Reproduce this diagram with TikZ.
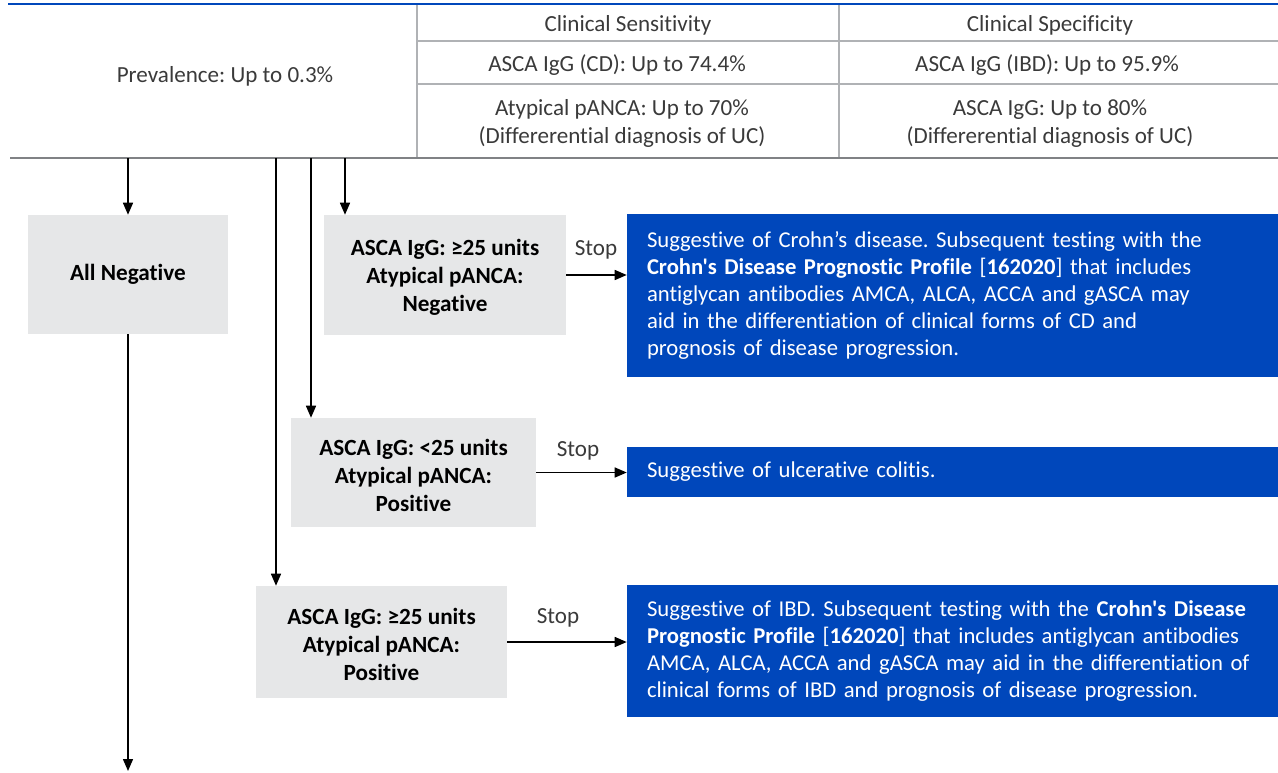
\documentclass[tikz,border=0pt]{standalone}
\usepackage{fontspec}
\setmainfont{Carlito}[Ligatures={TeXOff,NoCommon}]
\usetikzlibrary{arrows.meta}
\definecolor{boxgray}{HTML}{E6E7E8}
\definecolor{dxblue}{HTML}{0047BB}
\definecolor{rulegray}{HTML}{B0B2B5}
\definecolor{rulegrayd}{HTML}{808285}
\definecolor{txt}{HTML}{3A3A3A}
\frenchspacing
\begin{document}
\begin{tikzpicture}[x=0.75pt,y=-0.75pt,
  graybox/.style={fill=boxgray, draw=none, align=center, inner sep=0pt, text=black,
    font=\fontsize{17.4}{21}\selectfont\bfseries},
  bluebox/.style={fill=dxblue, draw=none, text=white, align=left, inner xsep=15pt, inner ysep=0pt,
    text width=458.25pt, minimum width=488.25pt, font=\fontsize{17}{20.25}\selectfont},
  cell/.style={text=txt, align=center, inner sep=0pt, font=\fontsize{17.3}{21}\selectfont},
  stoplbl/.style={text=txt, inner sep=0pt, font=\fontsize{17.3}{18}\selectfont},
  arr/.style={-{Triangle[length=9pt,width=7.5pt]}, line width=1.1pt, draw=black},
  tline/.style={draw=rulegray, line width=1pt},
]
\useasboundingbox (0,0) rectangle (1278,772);

% table
\draw[dxblue, line width=1.8pt] (8,4) -- (1278,4);
\draw[tline] (417,5) -- (417,158);
\draw[tline] (839,5) -- (839,158);
\draw[tline] (417,41) -- (1278,41);
\draw[tline] (417,84) -- (1278,84);
\draw[draw=rulegrayd, line width=1pt] (10,158) -- (1278,158);

\node[cell] (prev) at (225,76) {Prevalence: Up to 0.3\%};
\node[cell] (hsens) at (628,25) {Clinical Sensitivity};
\node[cell] (hspec) at (1050,25) {Clinical Specificity};
\node[cell] (s1) at (617,65) {ASCA IgG (CD): Up to 74.4\%};
\node[cell] (p1) at (1047,65) {ASCA IgG (IBD): Up to 95.9\%};
\node[cell] (s2) at (622,123.5) {Atypical pANCA: Up to 70\%\\(Differerential diagnosis of UC)};
\node[cell] (p2) at (1050,123.5) {ASCA IgG: Up to 80\%\\(Differerential diagnosis of UC)};

% gray boxes
\node[graybox, minimum width=150pt, minimum height=89.25pt] (neg) at (128,274.5) {All Negative};
\node[graybox, minimum width=181.5pt, minimum height=90pt] (b1) at (445,275)
  {\rule{0pt}{16pt}ASCA IgG: ≥25 units\\Atypical pANCA:\\Negative};
\node[graybox, minimum width=183.75pt, minimum height=81.75pt] (b2) at (413.5,472.5)
  {\rule{0pt}{16pt}ASCA IgG: <25 units\\Atypical pANCA:\\Positive};
\node[graybox, minimum width=188.25pt, minimum height=84pt] (b3) at (381.5,642)
  {\rule{0pt}{16pt}ASCA IgG: ≥25 units\\Atypical pANCA:\\Positive};

% blue boxes
\node[bluebox, minimum height=122.25pt] (r1) at (952.5,295.5)
  {Suggestive of Crohn’s disease. Subsequent testing with the\\
   \textbf{Crohn's Disease Prognostic Profile} [\textbf{162020}] that includes\\
   antiglycan antibodies AMCA, ALCA, ACCA and gASCA may\\
   aid in the differentiation of clinical forms of CD and\\
   prognosis of disease progression.};
\node[bluebox, minimum height=37.5pt] (r2) at (952.5,472)
  {Suggestive of ulcerative colitis.};
\node[bluebox, minimum height=99pt] (r3) at (952.5,651)
  {Suggestive of IBD. Subsequent testing with the \textbf{Crohn's Disease}\\
   \textbf{Prognostic Profile} [\textbf{162020}] that includes antiglycan antibodies\\
   AMCA, ALCA, ACCA and gASCA may aid in the differentiation of\\
   clinical forms of IBD and prognosis of disease progression.};

% vertical connectors from table
\coordinate (t1) at (128,158);
\coordinate (t2) at (276,158);
\coordinate (t3) at (311,158);
\coordinate (t4) at (345,158);
\coordinate (bend) at (128,771);
\draw[arr] (t1) -- (neg.north);
\draw[arr] (t4) -- (t4 |- b1.north);
\draw[arr] (t3) -- (t3 |- b2.north);
\draw[arr] (t2) -- (t2 |- b3.north);
\draw[arr] (neg.south) -- (bend);

% horizontal connectors
\draw[arr] (b1.east) -- (r1.west |- b1.east);
\draw[arr] (b2.east) -- (r2.west |- b2.east);
\draw[arr] (b3.east) -- (r3.west |- b3.east);
\node[stoplbl] (st1) at (596,250) {Stop};
\node[stoplbl] (st2) at (578,451) {Stop};
\node[stoplbl] (st3) at (558,618) {Stop};
\end{tikzpicture}
\end{document}
